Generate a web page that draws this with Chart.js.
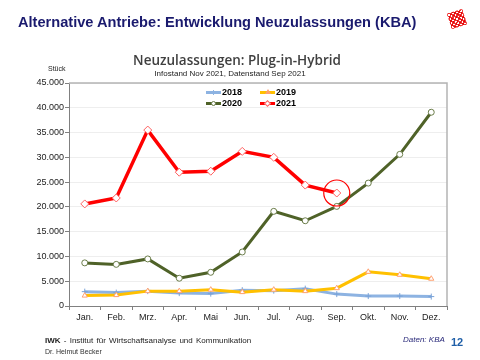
<!DOCTYPE html>
<html>
<head>
<meta charset="utf-8">
<script src="https://cdn.jsdelivr.net/npm/chart.js@4/dist/chart.umd.min.js"></script>
<style>
  body { margin: 0; background: #fff; }
  #page { position: relative; width: 480px; height: 360px; overflow: hidden; font-family: "Liberation Sans", Arial, sans-serif; }
  #page canvas { position: absolute; left: 0; top: 0; }
  .txt { position: absolute; white-space: nowrap; }
  #title { left: 18px; top: 13px; font-size: 14.6px; line-height: 18px; font-weight: bold; color: #1a1a6e; }
  #logo { left: 449px; top: 11px; width: 16px; height: 16px; transform: rotate(-18deg); position: absolute;
          background: repeating-linear-gradient(45deg, #f03030 0 1.5px, #fff 1.5px 3px),
                      repeating-linear-gradient(-45deg, #f03030 0 1.5px, #fff 1.5px 3px);
          background-blend-mode: multiply; }
  #ctitle { left: 0; width: 474px; text-align: center; top: 51px; font-family: "Open Sans", "Noto Sans", sans-serif; font-size: 13.5px; line-height: 18px; font-weight: 600; color: #404040; }
  #csub { left: 0; width: 460px; text-align: center; top: 69px; font-size: 8px; line-height: 10px; color: #222; }
  #unit { left: 48px; top: 64px; font-size: 7px; line-height: 9px; color: #222; }
  .leg { position: absolute; font-size: 9px; line-height: 11px; font-weight: bold; color: #000; }
  .leg i { position: absolute; top: 4px; left: 0; width: 15px; height: 3px; }
  .leg b { position: absolute; }
  .leg span { position: absolute; left: 16px; top: 0; }
  #foot1 { left: 45px; top: 336px; font-size: 8px; line-height: 10px; color: #222; word-spacing: 1px; }
  #foot2 { left: 45px; top: 347px; font-size: 7px; line-height: 9px; color: #333; }
  #src { left: 403px; top: 335px; font-size: 8px; line-height: 10px; font-style: italic; color: #2a2a7a; }
  #pg { left: 451px; top: 336px; font-size: 11px; line-height: 12px; font-weight: bold; color: #1f5fa8; }
</style>
</head>
<body>
<div id="page">
  <canvas id="chart" width="480" height="360"></canvas>
  <div class="txt" id="title">Alternative Antriebe: Entwicklung Neuzulassungen (KBA)</div>
  <div id="logo"></div>
  <div class="txt" id="ctitle">Neuzulassungen: Plug-in-Hybrid</div>
  <div class="txt" id="csub">Infostand Nov 2021, Datenstand Sep 2021</div>
  <div class="txt" id="unit">Stück</div>
  <div id="legend"></div>
  <div class="txt" id="foot1"><b>IWK</b> - Institut für Wirtschaftsanalyse und Kommunikation</div>
  <div class="txt" id="foot2">Dr. Helmut Becker</div>
  <div class="txt" id="src">Daten: KBA</div>
  <div class="txt" id="pg">12</div>
</div>
<script>
// chart data
const months = ['Jan.', 'Feb.', 'Mrz.', 'Apr.', 'Mai', 'Jun.', 'Jul.', 'Aug.', 'Sep.', 'Okt.', 'Nov.', 'Dez.'];
const values2018 = [2900, 2700, 3000, 2600, 2500, 3200, 3100, 3500, 2400, 2000, 2000, 1900];
const values2019 = [2100, 2200, 3000, 3000, 3300, 2800, 3300, 3000, 3600, 6900, 6300, 5500];
const values2020 = [8700, 8400, 9500, 5600, 6800, 10900, 19100, 17200, 20100, 24800, 30600, 39100];
const values2021 = [20600, 21800, 35500, 27000, 27200, 31200, 30000, 24400, 22800];
const yMax = 45000;
const yStep = 5000;
const highlightIndex = 8; // Sep 2021, circled

const font = "'Liberation Sans', Arial, sans-serif";

function fmt(v) {
    return String(v).replace(/\B(?=(\d{3})+(?!\d))/g, '.');
}

// legend built in html, two rows like the original
const legendItems = [
    { label: '2018', color: '#8db3e2', x: 206, y: 87, mark: 'plus' },
    { label: '2019', color: '#ffc000', x: 260, y: 87, mark: 'tri' },
    { label: '2020', color: '#4f6228', x: 206, y: 98, mark: 'circ' },
    { label: '2021', color: '#ff0000', x: 260, y: 98, mark: 'dia' }
];
function markHtml(m, color) {
    if (m === 'circ') return '<b style="left:5px;top:3px;width:3px;height:3px;border:1px solid #6b7d4a;border-radius:50%;background:#fff"></b>';
    if (m === 'dia') return '<b style="left:5px;top:3px;width:3px;height:3px;border:1px solid #ff6060;transform:rotate(45deg);background:#fff"></b>';
    if (m === 'tri') return '<b style="left:5px;top:2px;width:0;height:0;border-left:3px solid transparent;border-right:3px solid transparent;border-bottom:5px solid #ffa070"></b>';
    return '<b style="left:5px;top:2px;width:5px;height:1px;top:5px;background:' + color + '"></b><b style="left:7px;top:3px;width:1px;height:5px;background:' + color + '"></b>';
}
const legendDiv = document.getElementById('legend');
legendItems.forEach(function (item) {
    const d = document.createElement('div');
    d.className = 'leg';
    d.style.left = item.x + 'px';
    d.style.top = item.y + 'px';
    d.innerHTML = '<i style="background:' + item.color + '"></i>' + markHtml(item.mark, item.color) + '<span>' + item.label + '</span>';
    legendDiv.appendChild(d);
});

// top + right frame of the plot area
const framePlugin = {
    id: 'frame',
    beforeDatasetsDraw(chart) {
        const { ctx, chartArea: a } = chart;
        ctx.save();
        ctx.strokeStyle = '#b4b4b4';
        ctx.lineWidth = 1.5;
        ctx.beginPath();
        ctx.moveTo(a.left, a.top);
        ctx.lineTo(a.right, a.top);
        ctx.lineTo(a.right, a.bottom);
        ctx.stroke();
        ctx.restore();
    }
};

// red circle around the latest 2021 value
const circlePlugin = {
    id: 'circle',
    afterDatasetsDraw(chart) {
        const meta = chart.getDatasetMeta(3);
        const pt = meta.data[highlightIndex];
        if (!pt) return;
        const ctx = chart.ctx;
        ctx.save();
        ctx.strokeStyle = '#ff0000';
        ctx.lineWidth = 1.2;
        ctx.beginPath();
        ctx.arc(pt.x, pt.y, 13, 0, Math.PI * 2);
        ctx.stroke();
        ctx.restore();
    }
};

new Chart(document.getElementById('chart'), {
    type: 'line',
    data: {
        labels: months,
        datasets: [
            {
                label: '2018', data: values2018, order: 3,
                borderColor: '#8db3e2', borderWidth: 3,
                pointStyle: 'cross', pointRadius: 3, pointBorderColor: '#7aa3d8', pointBorderWidth: 1
            },
            {
                label: '2019', data: values2019, order: 2,
                borderColor: '#ffc000', borderWidth: 3,
                pointStyle: 'triangle', pointRadius: 3, pointBackgroundColor: '#fff',
                pointBorderColor: '#ffa070', pointBorderWidth: 1
            },
            {
                label: '2020', data: values2020, order: 1,
                borderColor: '#4f6228', borderWidth: 3,
                pointStyle: 'circle', pointRadius: 3, pointBackgroundColor: '#fff',
                pointBorderColor: '#6b7d4a', pointBorderWidth: 1
            },
            {
                label: '2021', data: values2021, order: 0,
                borderColor: '#ff0000', borderWidth: 3.5,
                pointStyle: 'rectRot', pointRadius: 4, pointBackgroundColor: '#fff',
                pointBorderColor: '#ff6060', pointBorderWidth: 1
            }
        ]
    },
    options: {
        responsive: false,
        animation: false,
        events: [],
        layout: { padding: { top: 83, right: 33, bottom: 36, left: 0 } },
        elements: { line: { tension: 0 } },
        plugins: {
            legend: { display: false },
            title: { display: false },
            tooltip: { enabled: false }
        },
        scales: {
            x: {
                offset: true,
                grid: {
                    offset: true, drawOnChartArea: false, drawTicks: true,
                    tickLength: 4, tickColor: '#808080'
                },
                border: { color: '#808080', width: 1 },
                ticks: { color: '#222', padding: 2, font: { family: font, size: 9 } },
                afterFit(s) { s.height = 18; s.paddingLeft = 0; s.paddingRight = 0; }
            },
            y: {
                min: 0, max: yMax,
                grid: { color: '#eeeeee', tickLength: 4, tickColor: '#808080' },
                border: { color: '#808080', width: 1 },
                ticks: {
                    stepSize: yStep, color: '#222', padding: 1,
                    font: { family: font, size: 9 },
                    callback: function (v) { return fmt(v); }
                },
                afterFit(s) { s.width = 69; s.paddingTop = 0; s.paddingBottom = 0; }
            }
        }
    },
    plugins: [framePlugin, circlePlugin]
});
</script>
</body>
</html>
